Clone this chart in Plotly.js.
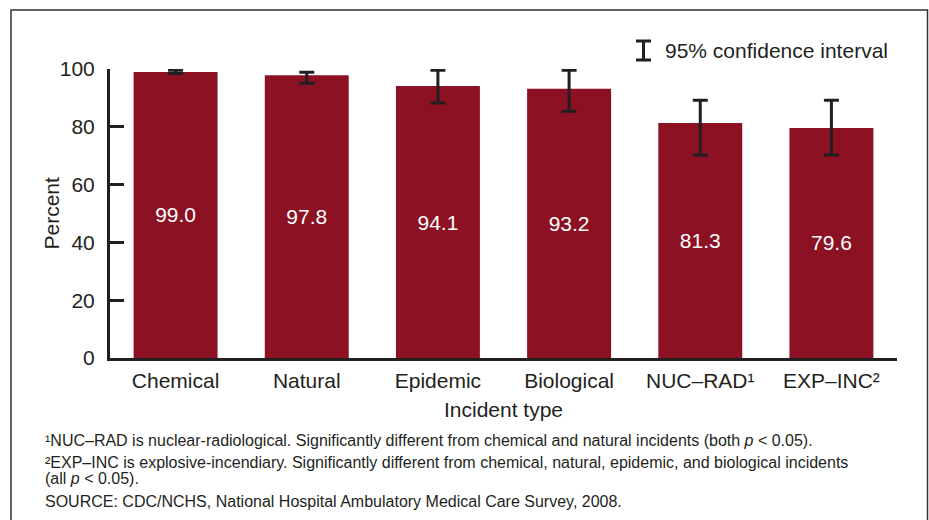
<!DOCTYPE html>
<html>
<head>
<meta charset="utf-8">
<script src="https://cdn.plot.ly/plotly-3.0.1.min.js"></script>
<style>html,body{margin:0;padding:0;background:#fff;}#chart{width:929px;height:520px;}</style>
</head>
<body>
<div id="chart"></div>
<script>
// Data
var categories = ["Chemical", "Natural", "Epidemic", "Biological", "NUC\u2013RAD\u00b9", "EXP\u2013INC\u00b2"];
var percent = [99.0, 97.8, 94.1, 93.2, 81.3, 79.6];
var ciLower = [98.4, 95.1, 88.2, 85.4, 70.2, 70.2];
var ciUpper = [99.6, 98.9, 99.6, 99.6, 89.2, 89.2];
var yTicks = [0, 20, 40, 60, 80, 100];
var xTitle = "Incident type";
var yTitle = "Percent";
var legendText = "95% confidence interval";

var footnotes = [
  "\u00b9NUC\u2013RAD is nuclear-radiological. Significantly different from chemical and natural incidents (both <i>p</i> &lt; 0.05).",
  "\u00b2EXP\u2013INC is explosive-incendiary. Significantly different from chemical, natural, epidemic, and biological incidents",
  "(all <i>p</i> &lt; 0.05).",
  "SOURCE: CDC/NCHS, National Hospital Ambulatory Medical Care Survey, 2008."
];
var footnoteY = [440, 462, 478, 501];

// layout geometry (pixels)
var W = 929, H = 520, ML = 110, MR = 32, MT = 69, MB = 162;
var PW = W - ML - MR, PH = H - MT - MB;
function px(x) { return (x - ML) / PW; }
function py(y) { return (H - MB - y) / PH; }

var ink = "#231f20";
var barColor = "#8b1123";
var font = "Liberation Sans, Arial, Helvetica, sans-serif";

var errPlus = percent.map(function (v, i) { return ciUpper[i] - v; });
var errMinus = percent.map(function (v, i) { return v - ciLower[i]; });

var trace = {
  type: "bar",
  x: categories,
  y: percent,
  marker: { color: barColor, line: { width: 0 } },
  text: percent.map(function (v) { return v.toFixed(1); }),
  textposition: "inside",
  insidetextanchor: "middle",
  textangle: 0,
  textfont: { family: font, size: 21, color: "#ffffff" },
  error_y: {
    type: "data", symmetric: false,
    array: errPlus, arrayminus: errMinus,
    color: ink, thickness: 3, width: 7.5
  },
  cliponaxis: false,
  hoverinfo: "none"
};

var shapes = [
  // outer frame
  { type: "rect", xref: "paper", yref: "paper", x0: px(11), x1: px(927.5), y0: py(10), y1: py(540),
    line: { color: "#333333", width: 1.5 }, fillcolor: "rgba(0,0,0,0)", layer: "below" },
  // legend I symbol
  { type: "line", xref: "paper", yref: "paper", x0: px(643.5), x1: px(643.5), y0: py(41), y1: py(60), line: { color: ink, width: 3 } },
  { type: "line", xref: "paper", yref: "paper", x0: px(636), x1: px(651), y0: py(41), y1: py(41), line: { color: ink, width: 3 } },
  { type: "line", xref: "paper", yref: "paper", x0: px(636), x1: px(651), y0: py(60), y1: py(60), line: { color: ink, width: 3 } }
];

var annotations = [
  { xref: "paper", yref: "paper", x: px(663), y: py(50), xanchor: "left", yanchor: "middle",
    text: legendText, showarrow: false, font: { family: font, size: 21, color: ink } },
  { xref: "paper", yref: "paper", x: px(50.5), y: py(213), xanchor: "center", yanchor: "middle",
    textangle: -90, text: yTitle, showarrow: false, font: { family: font, size: 21, color: ink } }
];
footnotes.forEach(function (t, i) {
  annotations.push({ xref: "paper", yref: "paper", x: px(43), y: py(footnoteY[i]), xanchor: "left", yanchor: "middle",
    text: t, showarrow: false, align: "left", font: { family: font, size: 16, color: ink } });
});

var layout = {
  width: W, height: H,
  margin: { l: ML, r: MR, t: MT, b: MB, pad: 0 },
  paper_bgcolor: "#ffffff", plot_bgcolor: "#ffffff",
  font: { family: font, color: ink, size: 21 },
  showlegend: false,
  bargap: 0.36,
  xaxis: {
    type: "category",
    range: [-0.5, 5.5],
    showline: true, linecolor: ink, linewidth: 3,
    showgrid: false, zeroline: false, ticks: "",
    tickfont: { family: font, size: 21, color: ink },
    ticklabelstandoff: 2,
    title: { text: xTitle, font: { family: font, size: 21, color: ink }, standoff: 12 },
    fixedrange: true
  },
  yaxis: {
    range: [0, 100],
    tickvals: yTicks,
    ticktext: yTicks.map(String),
    showline: true, linecolor: ink, linewidth: 3,
    showgrid: false, zeroline: false,
    ticks: "inside", ticklen: 14, tickwidth: 3, tickcolor: ink,
    tickfont: { family: font, size: 21, color: ink },
    ticklabelstandoff: 8,
    fixedrange: true
  },
  shapes: shapes,
  annotations: annotations
};

Plotly.newPlot("chart", [trace], layout, { displayModeBar: false, staticPlot: true });
</script>
</body>
</html>
